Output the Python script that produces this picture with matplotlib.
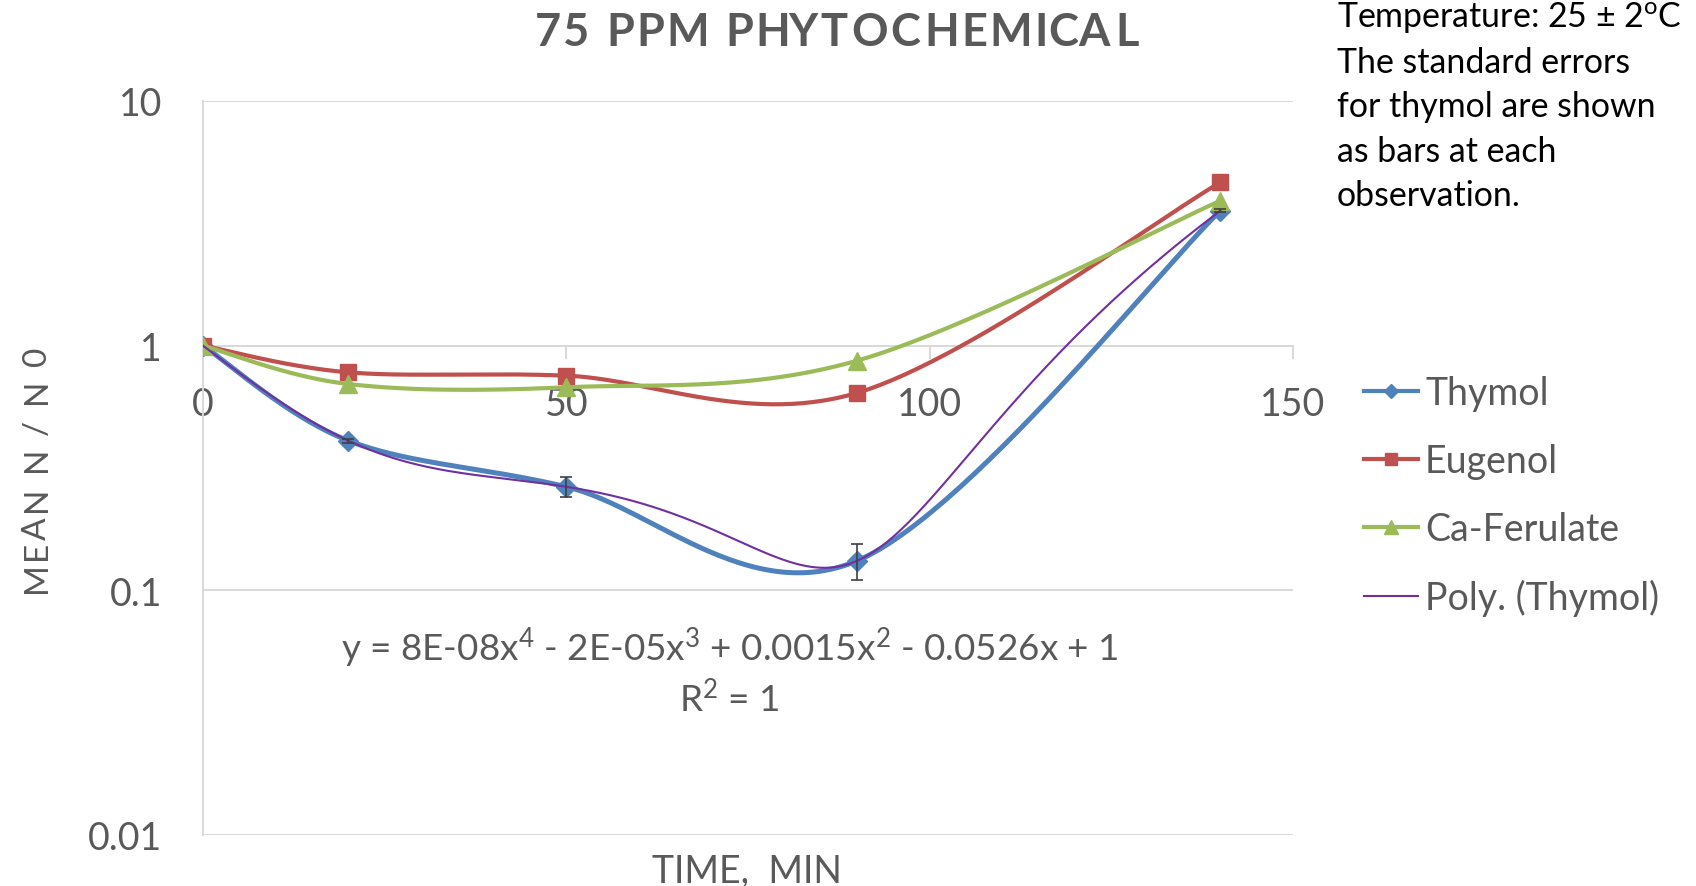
import numpy as np
import matplotlib
matplotlib.use('Agg')
import matplotlib.pyplot as plt
from matplotlib.lines import Line2D
from matplotlib.ticker import FixedLocator, NullLocator
from matplotlib.font_manager import FontProperties, findfont, get_font

plt.rcParams['font.family'] = ['Lato', 'DejaVu Sans']
plt.rcParams['mathtext.fontset'] = 'custom'
plt.rcParams['mathtext.rm'] = 'Lato'
plt.rcParams['mathtext.it'] = 'Lato:italic'
plt.rcParams['mathtext.bf'] = 'Lato:bold'

# survival ratio N/N0 at each sampling time (75 ppm)
time_min = [0, 20, 50, 90, 140]
thymol = [1.0, 0.409, 0.265, 0.132, 3.56]
thymol_se = [0.0, 0.008, 0.025, 0.022, 0.05]
eugenol = [1.0, 0.778, 0.754, 0.641, 4.65]
ca_ferulate = [1.0, 0.697, 0.676, 0.868, 3.91]

x_ticks = [0, 50, 100, 150]
y_ticks = [0.01, 0.1, 1, 10]
y_tick_labels = ['0.01', '0.1', '1', '10']

note_lines = ['Temperature: 25 \u00b1 2$^{\\mathrm{o}}$C',
              'The standard errors',
              'for thymol are shown',
              'as bars at each',
              'observation.']

GRAY = '#595959'
GRID = '#D9D9D9'
BLUE = '#4F81BD'
RED = '#C0504D'
GREEN = '#9BBB59'
PURPLE = '#7030A0'

W, H = 1696, 887


def smooth(ax, x, y, n=60):
    # Catmull-Rom through the points in screen space (Excel-style smoothed line)
    pts = ax.transData.transform(np.column_stack([x, y]))
    p = np.vstack([pts[0], pts, pts[-1]])
    t = np.linspace(0, 1, n)[:, None]
    out = []
    for i in range(1, len(p) - 2):
        p0, p1, p2, p3 = p[i - 1], p[i], p[i + 1], p[i + 2]
        seg = 0.5 * (2 * p1 + (p2 - p0) * t
                     + (2 * p0 - 5 * p1 + 4 * p2 - p3) * t ** 2
                     + (-p0 + 3 * p1 - 3 * p2 + p3) * t ** 3)
        out.append(seg if i == 1 else seg[1:])
    curve = ax.transData.inverted().transform(np.vstack(out))
    return curve[:, 0], curve[:, 1]


def spaced_text(fig, cx, cy, s, size, track, weight='normal', vertical=False, **kw):
    # letter-spaced text centred on (cx, cy) in pixels from top-left; cy is the baseline
    font = get_font(findfont(FontProperties(family='Lato', weight=weight)))
    font.set_size(size, 100)
    glyphs = [font.load_char(ord(c)) for c in s]
    adv = [g.linearHoriAdvance / 65536 + track for g in glyphs]
    pos = -(sum(adv) - track) / 2
    for c, g, a in zip(s, glyphs, adv):
        if c != ' ':
            # text is anchored at its ink edge, so shift by the left bearing
            p = pos + g.horiBearingX / 64
            if vertical:
                fig.text(cx / W, 1 - (cy - p) / H, c, rotation=90, rotation_mode='anchor',
                         ha='left', va='baseline', fontsize=size, fontweight=weight, **kw)
            else:
                fig.text((cx + p) / W, 1 - cy / H, c, ha='left', va='baseline',
                         fontsize=size, fontweight=weight, **kw)
        pos += a


fig = plt.figure(figsize=(W / 100, H / 100), dpi=100)
ax = fig.add_axes([203 / W, 1 - 836 / H, 1090 / W, 734 / H])
ax.set_yscale('log')
ax.set_xlim(0, 150)
ax.set_ylim(0.01, 10)

# axes styling: x axis crosses at N/N0 = 1
for side in ['top', 'right']:
    ax.spines[side].set_visible(False)
ax.spines['left'].set_color(GRID)
ax.spines['left'].set_linewidth(1.4)
ax.spines['bottom'].set_position(('data', 1))
ax.spines['bottom'].set_color(GRID)
ax.spines['bottom'].set_linewidth(1.4)
ax.yaxis.grid(True, color=GRID, lw=1.4)
ax.set_axisbelow(True)

ax.xaxis.set_major_locator(FixedLocator(x_ticks))
ax.xaxis.set_minor_locator(NullLocator())
ax.tick_params(axis='x', direction='out', length=9.4, width=1.4, color=GRID,
               pad=19.5, labelsize=27, labelcolor=GRAY)
ax.yaxis.set_major_locator(FixedLocator(y_ticks))
ax.yaxis.set_minor_locator(NullLocator())
ax.set_yticklabels(y_tick_labels)
ax.tick_params(axis='y', length=0, pad=29.5, labelsize=27, labelcolor=GRAY)

# smoothed series lines with markers
for vals, col, mk, lw, ms in [(thymol, BLUE, 'D', 3.6, 10.5),
                             (eugenol, RED, 's', 3.0, 11.5),
                             (ca_ferulate, GREEN, '^', 3.0, 12.5)]:
    sx, sy = smooth(ax, time_min, vals)
    ax.plot(sx, sy, color=col, lw=lw, solid_capstyle='round', zorder=3)
    ax.plot(time_min, vals, ls='none', marker=mk, ms=ms, color=col, zorder=3)

# 4th order polynomial trendline for thymol
coef = np.polyfit(time_min, thymol, 4)
tx = np.linspace(time_min[0], time_min[-1], 400)
ax.plot(tx, np.polyval(coef, tx), color=PURPLE, lw=1.5, zorder=4)

# standard errors for thymol
se = np.array(thymol_se)
has_se = se > 0
ax.errorbar(np.array(time_min)[has_se], np.array(thymol)[has_se], yerr=se[has_se],
            fmt='none', ecolor='#404040', elinewidth=1.2, capsize=4.5, capthick=1.2, zorder=5)

# legend
handles = [Line2D([], [], color=BLUE, lw=3.0, marker='D', ms=7.5),
           Line2D([], [], color=RED, lw=3.0, marker='s', ms=8.5),
           Line2D([], [], color=GREEN, lw=3.0, marker='^', ms=9.5),
           Line2D([], [], color=PURPLE, lw=1.5)]
labels = ['Thymol', 'Eugenol', 'Ca-Ferulate', 'Poly. (Thymol)']
ax.legend(handles, labels, loc='center left', bbox_to_anchor=(1364 / W, 1 - 496.5 / H),
          bbox_transform=fig.transFigure, frameon=False, fontsize=27, handlelength=1.44,
          handletextpad=0.19, labelspacing=0.85, borderpad=0, borderaxespad=0,
          labelcolor=GRAY)

# titles and labels
spaced_text(fig, 834, 46, '75 PPM PHYTOCHEMICAL', 32.5, 2.3, weight='bold', color=GRAY)
spaced_text(fig, 46, 472, 'MEAN N / N 0', 24, 2.8, vertical=True, color=GRAY)
fig.text(747 / W, 1 - 883 / H, 'TIME,  MIN', ha='center', va='baseline', fontsize=27, color=GRAY)

# trendline equation
fig.text(729.5 / W, 1 - 661 / H,
         'y = 8E-08x$^{4}$ - 2E-05x$^{3}$ + 0.0015x$^{2}$ - 0.0526x + 1',
         ha='center', va='baseline', fontsize=26.6, color=GRAY)
fig.text(729.5 / W, 1 - 712 / H, 'R$^{2}$ = 1', ha='center', va='baseline',
         fontsize=26.6, color=GRAY)

# note in the top-right corner
for i, line in enumerate(note_lines):
    fig.text(1337 / W, 1 - (28 + 44.6 * i) / H, line, ha='left', va='baseline',
             fontsize=24.4, color='black')

fig.savefig('out.png', dpi=100)
